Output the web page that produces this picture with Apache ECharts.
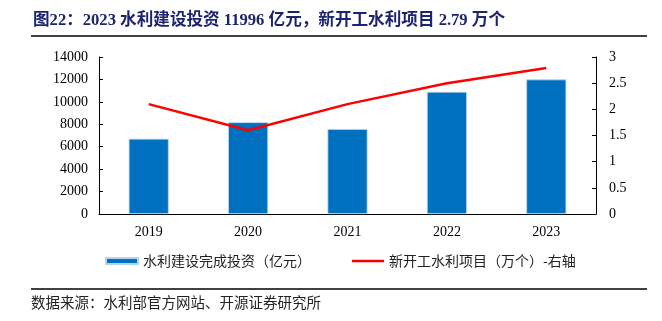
<!DOCTYPE html>
<html>
<head>
<meta charset="utf-8">
<script src="https://cdn.jsdelivr.net/npm/echarts@6/dist/echarts.min.js"></script>
<style>
html,body{margin:0;padding:0;background:#fff;}
#c{width:662px;height:321px;}
</style>
</head>
<body>
<div id="c"></div>
<script>
var categories = ['2019', '2020', '2021', '2022', '2023'];
var investment = [6712, 8181, 7576, 10893, 11996];
var newProjects = [2.1, 1.6, 2.1, 2.5, 2.79];
var leftTicks = {min: 0, max: 14000, interval: 2000};
var rightTicks = {min: 0, max: 3, interval: 0.5};

var serif = "'Liberation Serif','Times New Roman','Noto Sans CJK SC',serif";
var cjk = "'Noto Sans CJK SC',sans-serif";

var chart = echarts.init(document.getElementById('c'), null, {renderer: 'canvas'});
chart.setOption({
  animation: false,
  backgroundColor: '#fff',
  grid: {left: 99, right: 66, top: 57, bottom: 107, containLabel: false},
  legend: {
    left: 105, top: 254, padding: 0,
    itemWidth: 32, itemHeight: 6, itemGap: 41,
    textStyle: {fontFamily: cjk, fontSize: 14, color: '#222'},
    data: [
      {name: '水利建设完成投资（亿元）', icon: 'rect'},
      {name: '新开工水利项目（万个）-右轴',
       icon: 'path://M0,0 H32 V0.01 H0 Z M0,1.8 H32 V4.2 H0 Z M0,5.99 H32 V6 H0 Z',
       itemStyle: {color: '#FF0000', borderWidth: 0}}
    ]
  },
  xAxis: {
    type: 'category',
    data: categories,
    axisLine: {lineStyle: {color: '#000', width: 1}},
    axisTick: {inside: true, length: 4, lineStyle: {color: '#000'}},
    axisLabel: {fontFamily: serif, fontSize: 14, color: '#000', margin: 11}
  },
  yAxis: [
    {
      type: 'value', min: leftTicks.min, max: leftTicks.max, interval: leftTicks.interval,
      axisLine: {show: true, lineStyle: {color: '#000', width: 1}},
      axisTick: {show: true, inside: true, length: 4, lineStyle: {color: '#000'}},
      splitLine: {show: false},
      axisLabel: {fontFamily: serif, fontSize: 14, color: '#000', margin: 11,
        formatter: function (v) { return String(v); }}
    },
    {
      type: 'value', min: rightTicks.min, max: rightTicks.max, interval: rightTicks.interval,
      position: 'right',
      axisLine: {show: true, lineStyle: {color: '#000', width: 1}},
      axisTick: {show: true, inside: true, length: 4, lineStyle: {color: '#000'}},
      splitLine: {show: false},
      axisLabel: {fontFamily: serif, fontSize: 14, color: '#000', margin: 13,
        formatter: function (v) { return String(v); }}
    }
  ],
  series: [
    {
      name: '水利建设完成投资（亿元）',
      type: 'bar',
      data: investment,
      barWidth: 40,
      itemStyle: {color: '#0070C0', borderColor: '#b9d3ec', borderWidth: 0.8}
    },
    {
      name: '新开工水利项目（万个）-右轴',
      type: 'line',
      yAxisIndex: 1,
      data: newProjects,
      symbol: 'none',
      lineStyle: {color: '#FF0000', width: 2.5},
      itemStyle: {color: '#FF0000'}
    }
  ],
  graphic: [
    {type: 'text', left: 33, top: 12, style: {
      text: '图22：2023 水利建设投资 11996 亿元，新开工水利项目 2.79 万个',
      font: "bold 16.6px " + serif, fill: '#1c2470'}},
    {type: 'line', shape: {x1: 31, y1: 36, x2: 647, y2: 36}, style: {stroke: '#000', lineWidth: 1.5}},
    {type: 'line', shape: {x1: 31, y1: 289, x2: 647, y2: 289}, style: {stroke: '#000', lineWidth: 1.5}},
    {type: 'text', left: 31, top: 295, style: {
      text: '数据来源：水利部官方网站、开源证券研究所',
      font: "14.5px " + cjk, fill: '#222'}}
  ]
});
</script>
</body>
</html>
